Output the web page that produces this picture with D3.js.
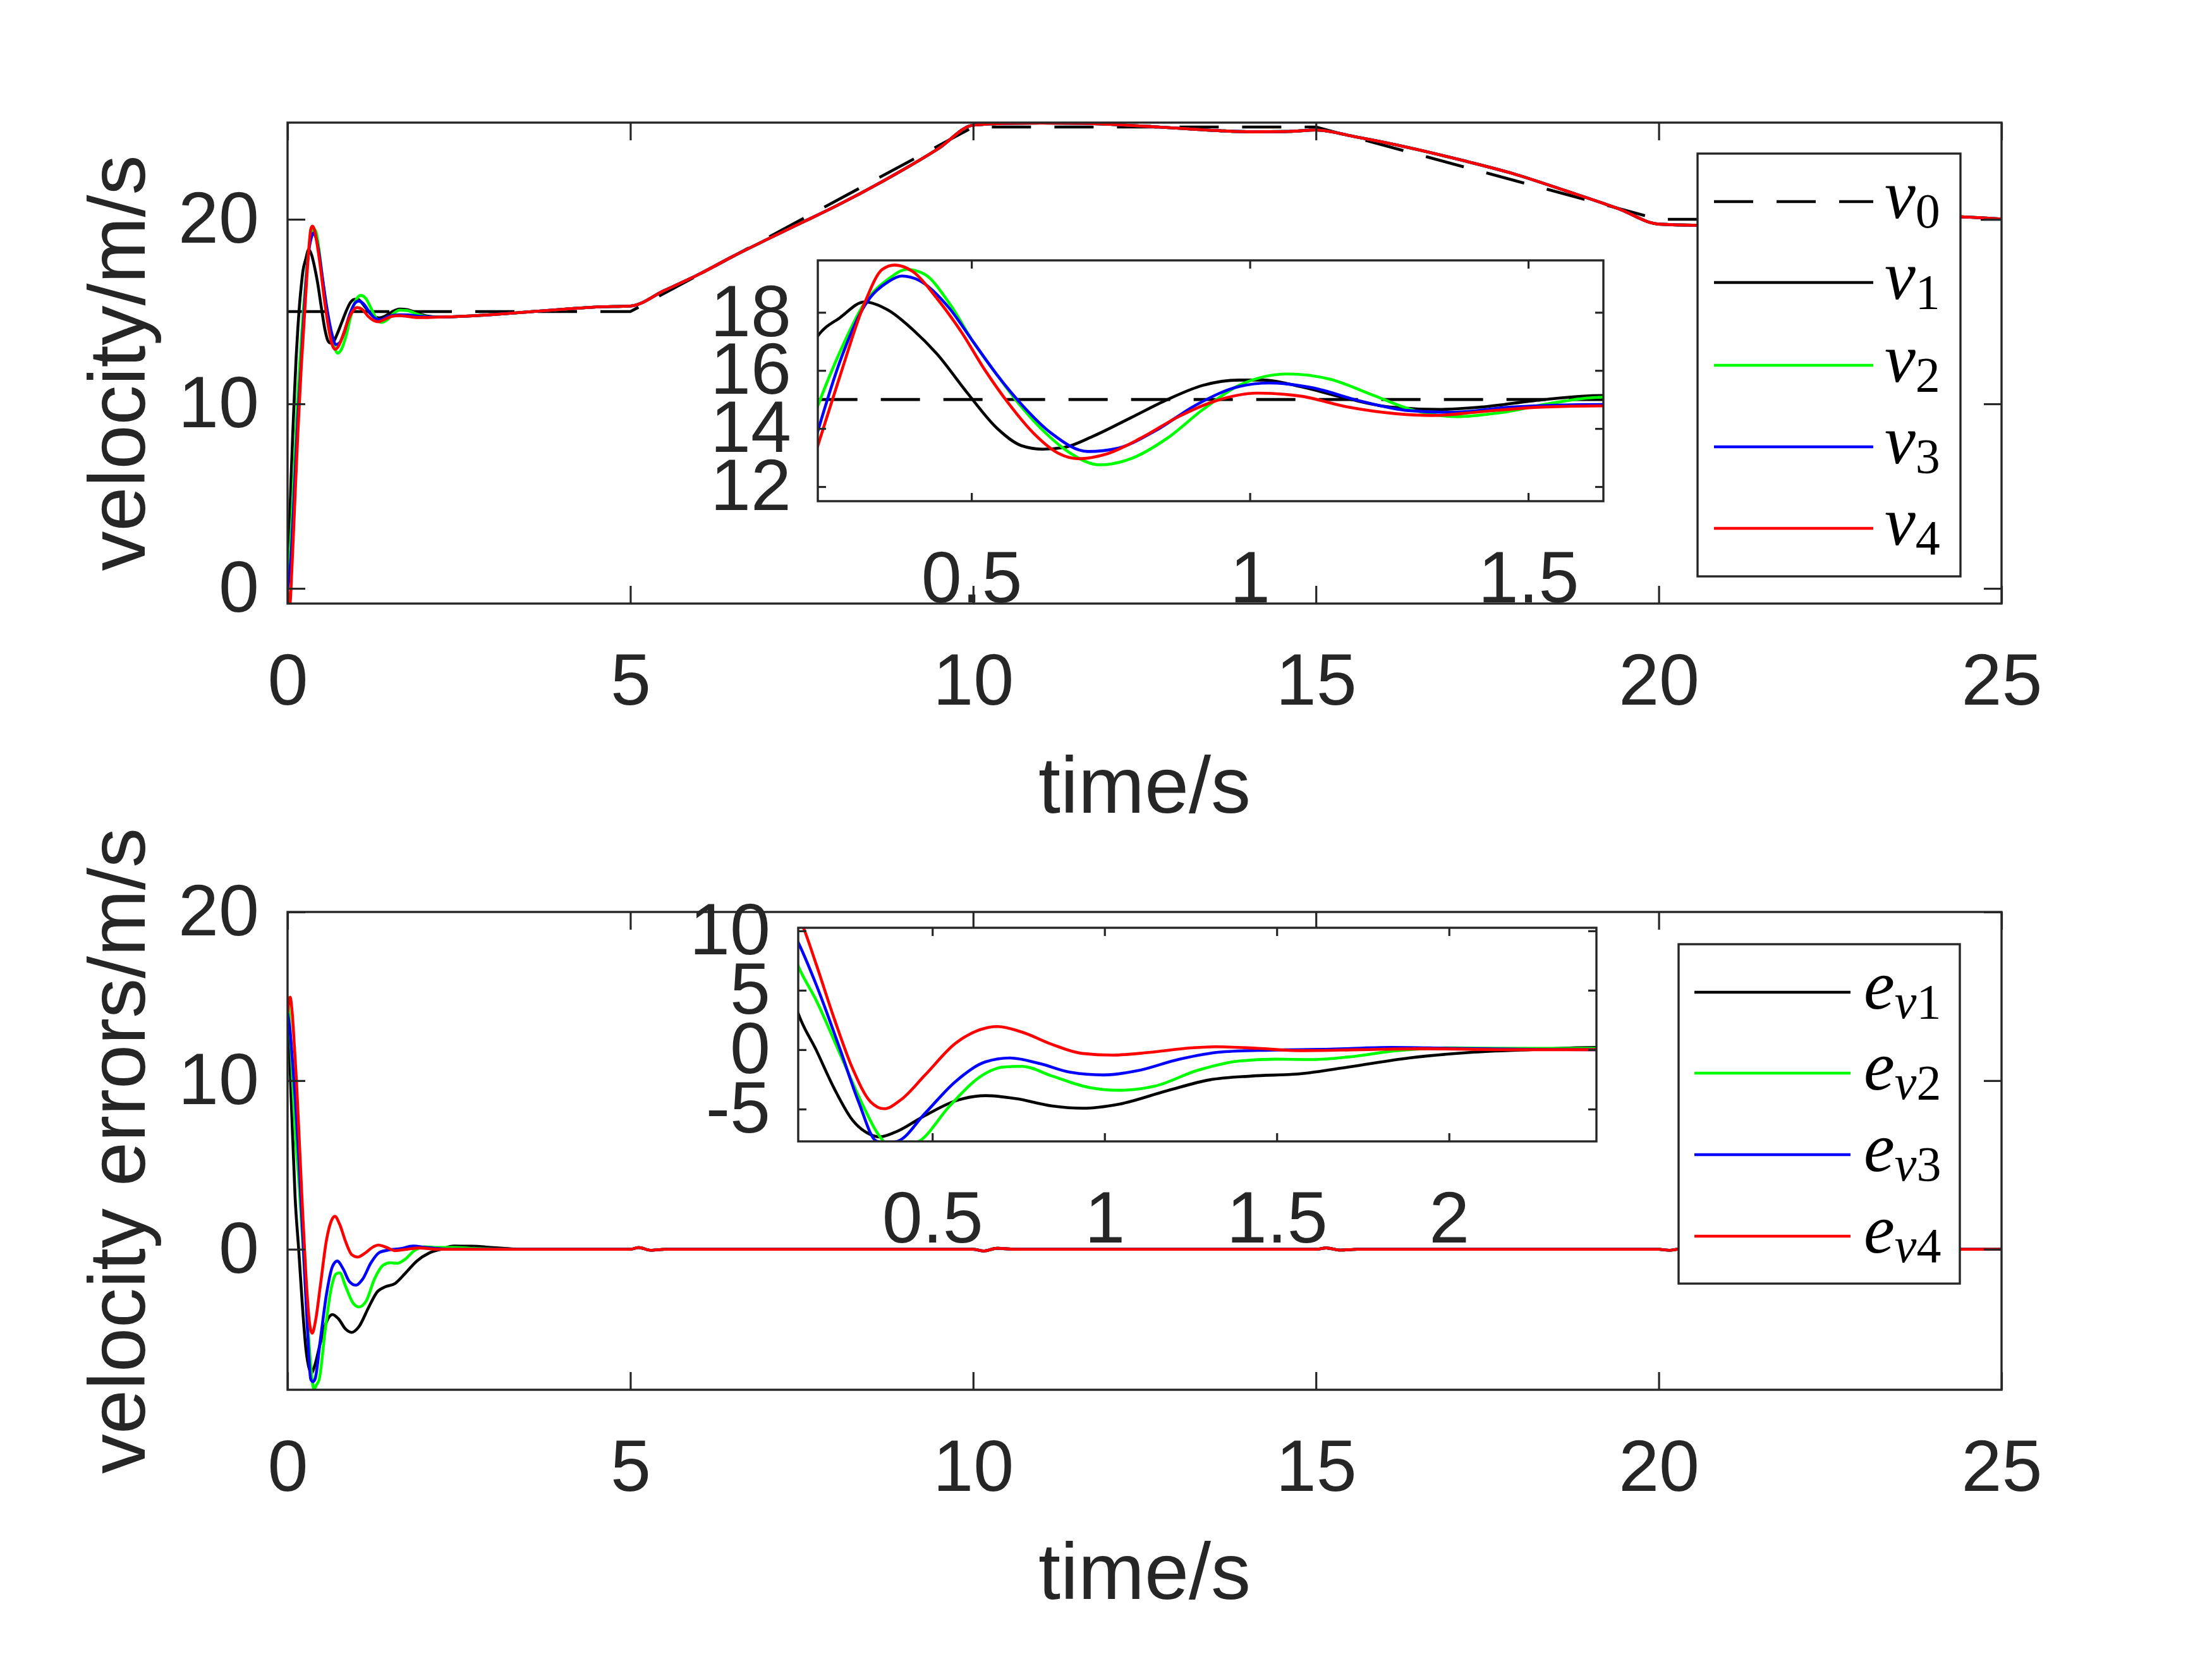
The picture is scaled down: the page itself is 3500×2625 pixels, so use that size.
<!DOCTYPE html>
<html><head><meta charset="utf-8">
<script src="https://cdn.jsdelivr.net/npm/d3@7"></script>
<style>body{margin:0;background:#fff}</style>
</head><body>
<svg id="c" width="3500" height="2625" xmlns="http://www.w3.org/2000/svg"></svg>
<script>
// ---------------- DATA ----------------
// Leader reference velocity v0
const t0 = [0, 5, 10, 15, 20, 25];
const v0 = [15, 15, 25, 25, 20, 20];

// Follower velocities: early transient (each series) + common late part (all four overlap)
const tV1 = [0, 0.025, 0.05, 0.075, 0.1, 0.125, 0.15, 0.175, 0.2, 0.224, 0.264, 0.308, 0.351, 0.395, 0.438, 0.492, 0.547, 0.59, 0.628, 0.666, 0.72, 0.786, 0.851, 0.916, 0.981, 1.024, 1.09, 1.176, 1.252, 1.339, 1.415, 1.524, 1.632, 1.75, 1.9, 2.05, 2.2];
const v1  = [0, 3.0, 5.8, 8.3, 10.5, 12.5, 14.1, 15.4, 16.4, 17.19, 17.82, 18.36, 18.07, 17.40, 16.57, 15.24, 13.99, 13.41, 13.29, 13.35, 13.75, 14.37, 14.99, 15.49, 15.67, 15.67, 15.45, 15.03, 14.74, 14.66, 14.74, 14.99, 15.14, 15.1, 14.9, 14.75, 14.7];

const tV2 = [0, 0.03, 0.06, 0.1, 0.15, 0.2, 0.224, 0.264, 0.308, 0.351, 0.384, 0.416, 0.46, 0.503, 0.547, 0.59, 0.634, 0.677, 0.731, 0.786, 0.851, 0.916, 0.981, 1.068, 1.144, 1.22, 1.296, 1.372, 1.448, 1.546, 1.632, 1.75, 1.9, 2.05, 2.2];
const v2  = [0, 1.5, 3.5, 6.8, 10.5, 13.5, 14.78, 16.65, 18.32, 19.15, 19.48, 19.31, 18.32, 16.99, 15.82, 14.74, 13.83, 13.16, 12.75, 12.96, 13.66, 14.66, 15.49, 15.88, 15.70, 15.16, 14.62, 14.41, 14.54, 14.89, 15.08, 15.05, 14.85, 14.72, 14.7];

const tV3 = [0, 0.03, 0.06, 0.1, 0.15, 0.2, 0.224, 0.264, 0.308, 0.351, 0.375, 0.406, 0.46, 0.503, 0.547, 0.59, 0.644, 0.709, 0.764, 0.829, 0.905, 0.981, 1.035, 1.111, 1.198, 1.285, 1.361, 1.47, 1.632, 1.75, 1.9, 2.05, 2.2];
const v3  = [0, 0.8, 2.3, 5.3, 9.2, 12.3, 13.91, 16.32, 18.23, 19.06, 19.25, 19.1, 18.15, 16.99, 15.82, 14.83, 13.83, 13.21, 13.33, 13.91, 14.83, 15.45, 15.57, 15.41, 14.95, 14.62, 14.56, 14.74, 14.83, 14.82, 14.76, 14.72, 14.7];

const tV4 = [0, 0.015, 0.035, 0.06, 0.1, 0.15, 0.2, 0.224, 0.264, 0.308, 0.34, 0.362, 0.395, 0.438, 0.482, 0.525, 0.568, 0.612, 0.655, 0.693, 0.742, 0.807, 0.872, 0.938, 1.014, 1.09, 1.176, 1.263, 1.328, 1.415, 1.524, 1.632, 1.75, 1.9, 2.05, 2.2];
const v4  = [0, -0.6, -0.8, 0.8, 4.2, 8.4, 12.0, 13.41, 15.82, 18.32, 19.48, 19.63, 19.4, 18.48, 17.32, 15.99, 14.83, 13.83, 13.16, 12.96, 13.12, 13.70, 14.41, 14.95, 15.22, 15.12, 14.74, 14.51, 14.45, 14.58, 14.74, 14.78, 14.74, 14.68, 14.68, 14.7];

const tVLate = [2.4, 2.7, 3.0, 3.5, 4.0, 4.5, 5.0, 5.5, 6.0, 6.5, 7.0, 7.5, 8.0, 8.7, 9.5, 10.0, 10.5, 11.0, 11.6, 12.15, 12.7, 13.15, 13.6, 14.07, 14.6, 15.0, 15.59, 16.35, 17.12, 17.88, 18.64, 19.41, 20.0, 20.5, 21.0, 22.0, 23.0, 24.0, 24.5, 25.0];
const vLate  = [14.72, 14.77, 14.84, 14.98, 15.12, 15.25, 15.3, 16.15, 17.02, 18.0, 18.92, 19.82, 20.72, 22.1, 23.85, 25.1, 25.2, 25.22, 25.2, 25.12, 25.0, 24.9, 24.8, 24.74, 24.76, 24.84, 24.46, 23.89, 23.21, 22.47, 21.55, 20.58, 19.74, 19.68, 19.72, 19.92, 20.1, 20.18, 20.12, 20.02];

// Velocity errors: early transient (each series) + common late tail
const tE1 = [0, 0.03, 0.06, 0.11, 0.163, 0.215, 0.268, 0.321, 0.347, 0.391, 0.479, 0.567, 0.655, 0.742, 0.848, 0.936, 1.041, 1.182, 1.305, 1.427, 1.568, 1.709, 1.884, 2.06, 2.235, 2.43, 2.7, 3.0, 3.3];
const e1  = [14.6, 11.5, 8.2, 3.09, -0.04, -3.26, -5.92, -7.15, -7.34, -6.96, -5.54, -4.31, -3.87, -4.12, -4.74, -4.93, -4.59, -3.45, -2.54, -2.22, -2.03, -1.46, -0.70, -0.23, 0, 0.19, 0.18, 0.1, 0.02];

const tE2 = [0, 0.03, 0.06, 0.11, 0.163, 0.233, 0.303, 0.34, 0.387, 0.42, 0.461, 0.549, 0.637, 0.707, 0.76, 0.848, 0.953, 1.041, 1.146, 1.269, 1.392, 1.498, 1.603, 1.709, 1.849, 2.007, 2.183, 2.43, 2.7, 3.0, 3.3];
const e2  = [15.0, 13.5, 11.2, 7.08, 4.14, -0.42, -4.97, -7.0, -8.3, -8.05, -7.72, -4.78, -2.31, -1.46, -1.40, -2.22, -3.17, -3.42, -3.07, -1.75, -0.95, -0.8, -0.83, -0.61, -0.08, 0.15, 0.11, 0.11, 0.05, 0.02, 0];

const tE3 = [0, 0.03, 0.06, 0.11, 0.163, 0.233, 0.286, 0.338, 0.367, 0.4, 0.479, 0.567, 0.655, 0.725, 0.813, 0.9, 0.997, 1.094, 1.217, 1.34, 1.48, 1.656, 1.832, 2.007, 2.27, 2.43, 2.7, 3.0, 3.3];
const e3  = [14.0, 13.2, 11.8, 9.07, 5.46, -0.04, -4.40, -7.7, -7.85, -7.7, -5.35, -2.69, -1.02, -0.70, -1.18, -1.90, -2.13, -1.78, -0.8, -0.19, -0.04, 0.04, 0.19, 0.11, 0.02, 0, 0, 0, 0];

const tE4 = [0, 0.037, 0.07, 0.1, 0.128, 0.163, 0.215, 0.268, 0.321, 0.36, 0.409, 0.479, 0.567, 0.637, 0.69, 0.76, 0.848, 0.936, 1.023, 1.129, 1.252, 1.322, 1.445, 1.568, 1.744, 1.919, 2.183, 2.43, 2.7, 3.0, 3.3];
const e4  = [14.0, 14.95, 13.9, 12.0, 10.1, 7.17, 2.62, -1.56, -4.40, -4.97, -4.21, -2.13, 0.53, 1.67, 1.95, 1.48, 0.44, -0.32, -0.46, -0.23, 0.15, 0.25, 0.11, -0.08, 0, 0.08, 0, 0, 0, 0, 0];

const tELate = [3.5, 5.0, 5.12, 5.3, 5.5, 10.0, 10.15, 10.35, 10.6, 15.0, 15.15, 15.35, 15.6, 20.0, 20.15, 20.35, 20.6, 25.0];
const eLate  = [0, 0, 0.1, -0.06, 0, 0, -0.1, 0.06, 0, 0, 0.08, -0.05, 0, 0, -0.06, 0.04, 0, 0];

// Ticks / labels
const mainXTicks = [0, 5, 10, 15, 20, 25];
const mainXLabels = ['0', '5', '10', '15', '20', '25'];
const velYTicks = [0, 10, 20];
const velYLabels = ['0', '10', '20'];
const errYTicks = [0, 10, 20];
const errYLabels = ['0', '10', '20'];
const inset1XTicks = [0.5, 1, 1.5];
const inset1XLabels = ['0.5', '1', '1.5'];
const inset1YTicks = [12, 14, 16, 18];
const inset1YLabels = ['12', '14', '16', '18'];
const inset2XTicks = [0.5, 1, 1.5, 2];
const inset2XLabels = ['0.5', '1', '1.5', '2'];
const inset2YTicks = [-5, 0, 5, 10];
const inset2YLabels = ['-5', '0', '5', '10'];

const velNames = ['v0', 'v1', 'v2', 'v3', 'v4'];
const errNames = ['ev1', 'ev2', 'ev3', 'ev4'];
const seriesColors = ['#000000', '#00ff00', '#0000ff', '#ff0000'];

// ---------------- DRAWING ----------------
const AX = '#262626';
const SANS = "'Liberation Sans', Arial, Helvetica, sans-serif";
const SERIF = "'Liberation Serif', 'Times New Roman', serif";
const svg = d3.select('#c');
svg.append('rect').attr('width', 3500).attr('height', 2625).attr('fill', '#fff');
const defs = svg.append('defs');
let clipCount = 0;

const zip = (ts, vs) => ts.map((t, i) => [t, vs[i]]);
const join = (ta, va, tb, vb) => zip(ta, va).concat(zip(tb, vb));

const vSeries = [join(tV1, v1, tVLate, vLate), join(tV2, v2, tVLate, vLate), join(tV3, v3, tVLate, vLate), join(tV4, v4, tVLate, vLate)];
const eSeries = [join(tE1, e1, tELate, eLate), join(tE2, e2, tELate, eLate), join(tE3, e3, tELate, eLate), join(tE4, e4, tELate, eLate)];
const refSeries = zip(t0, v0);

function makePanel(p) {
  const x = d3.scaleLinear().domain(p.xd).range([p.l, p.r]);
  const y = d3.scaleLinear().domain(p.yd).range([p.b, p.t]);
  const g = svg.append('g');
  if (p.fill) g.append('rect').attr('x', p.l).attr('y', p.t).attr('width', p.r - p.l).attr('height', p.b - p.t).attr('fill', '#fff');
  const id = 'clip' + (++clipCount);
  defs.append('clipPath').attr('id', id).append('rect')
    .attr('x', p.l).attr('y', p.t).attr('width', p.r - p.l).attr('height', p.b - p.t);
  const lines = g.append('g').attr('clip-path', `url(#${id})`);
  const lab = arr => (d, i) => arr[i];
  const none = () => '';
  g.append('g').attr('transform', `translate(0,${p.b})`)
    .call(d3.axisBottom(x).tickValues(p.xt).tickFormat(lab(p.xl)).tickSize(-p.tl).tickSizeOuter(0).tickPadding(78));
  g.append('g').attr('transform', `translate(0,${p.t})`)
    .call(d3.axisTop(x).tickValues(p.xt).tickFormat(none).tickSize(-p.tl).tickSizeOuter(0));
  g.append('g').attr('transform', `translate(${p.l},0)`)
    .call(d3.axisLeft(y).tickValues(p.yt).tickFormat(lab(p.yl)).tickSize(-p.tl).tickSizeOuter(0).tickPadding(p.yp));
  g.append('g').attr('transform', `translate(${p.r},0)`)
    .call(d3.axisRight(y).tickValues(p.yt).tickFormat(none).tickSize(-p.tl).tickSizeOuter(0));
  g.selectAll('.domain').remove();
  g.selectAll('.tick line').attr('stroke', AX).attr('stroke-width', 3.2);
  g.selectAll('.tick text').attr('fill', AX).attr('font-family', SANS).attr('font-size', 115);
  g.append('rect').attr('x', p.l).attr('y', p.t).attr('width', p.r - p.l).attr('height', p.b - p.t)
    .attr('fill', 'none').attr('stroke', AX).attr('stroke-width', 3.4);
  return { x, y, lines };
}

function drawLine(P, data, color, dashed, curve) {
  const gen = d3.line().x(d => P.x(d[0])).y(d => P.y(d[1])).curve(curve || d3.curveMonotoneX);
  const path = P.lines.append('path').datum(data).attr('d', gen)
    .attr('fill', 'none').attr('stroke', color).attr('stroke-width', 4.6)
    .attr('stroke-linejoin', 'round');
  if (dashed) path.attr('stroke-dasharray', '62,37');
}

// --- top panel ---
const P1 = makePanel({ l: 455, r: 3167, t: 194, b: 955, xd: [0, 25], yd: [-0.82, 25.24],
  xt: mainXTicks, xl: mainXLabels, yt: velYTicks, yl: velYLabels, tl: 28, yp: 45 });
drawLine(P1, refSeries, '#000', true, d3.curveLinear);
vSeries.forEach((s, i) => drawLine(P1, s, seriesColors[i]));

const I1 = makePanel({ l: 1294, r: 2537, t: 412, b: 793, xd: [0.224, 1.635], yd: [11.5, 19.79],
  xt: inset1XTicks, xl: inset1XLabels, yt: inset1YTicks, yl: inset1YLabels, tl: 13, yp: 42, fill: true });
drawLine(I1, refSeries, '#000', true, d3.curveLinear);
vSeries.forEach((s, i) => drawLine(I1, s, seriesColors[i]));

// --- bottom panel ---
const P2 = makePanel({ l: 455, r: 3167, t: 1443, b: 2199, xd: [0, 25], yd: [-8.33, 20],
  xt: mainXTicks, xl: mainXLabels, yt: errYTicks, yl: errYLabels, tl: 28, yp: 45 });
eSeries.forEach((s, i) => drawLine(P2, s, seriesColors[i]));

const I2 = makePanel({ l: 1263, r: 2526, t: 1468, b: 1806, xd: [0.1106, 2.428], yd: [-7.72, 10.26],
  xt: inset2XTicks, xl: inset2XLabels, yt: inset2YTicks, yl: inset2YLabels, tl: 13, yp: 44, fill: true });
eSeries.forEach((s, i) => drawLine(I2, s, seriesColors[i]));

// --- axis labels ---
function label(txt, x, y, rot) {
  svg.append('text').attr('transform', `translate(${x},${y})` + (rot ? ' rotate(-90)' : ''))
    .attr('text-anchor', 'middle').attr('font-family', SANS).attr('font-size', 126)
    .attr('fill', AX).text(txt);
}
label('time/s', 1811, 1286);
label('time/s', 1811, 2530);
label('velocity/m/s', 229, 574.5, true);
label('velocity errors/m/s', 229, 1821, true);

// --- legends ---
function legend(box, rows, lineX, textX, items) {
  const g = svg.append('g');
  g.append('rect').attr('x', box[0]).attr('y', box[1]).attr('width', box[2] - box[0]).attr('height', box[3] - box[1])
    .attr('fill', '#fff').attr('stroke', AX).attr('stroke-width', 3.4);
  items.forEach((it, i) => {
    const yy = rows[i];
    const ln = g.append('line').attr('x1', lineX[0]).attr('x2', lineX[1]).attr('y1', yy).attr('y2', yy)
      .attr('stroke', it.color).attr('stroke-width', 4.6);
    if (it.dashed) ln.attr('stroke-dasharray', '62,37');
    const t = g.append('text').attr('x', textX).attr('y', yy + 26).attr('font-family', SERIF).attr('fill', '#000');
    t.append('tspan').attr('font-style', 'italic').attr('font-size', 110).text(it.main);
    if (it.subItalic) {
      t.append('tspan').attr('font-style', 'italic').attr('font-size', 78).attr('dy', 15).text(it.subItalic);
      t.append('tspan').attr('font-size', 78).text(it.sub);
    } else {
      t.append('tspan').attr('font-size', 78).attr('dy', 15).text(it.sub);
    }
  });
}
legend([2686, 243, 3102, 912], [319, 447, 578, 707, 836], [2712, 2964], 2982,
  velNames.map((n, i) => ({ main: 'v', sub: n.slice(1), color: i === 0 ? '#000' : seriesColors[i - 1], dashed: i === 0 })));
legend([2656, 1494, 3101, 2031], [1570, 1698, 1827, 1956], [2681, 2928], 2949,
  errNames.map((n, i) => ({ main: 'e', subItalic: 'v', sub: n.slice(2), color: seriesColors[i] })));
</script>
</body></html>
